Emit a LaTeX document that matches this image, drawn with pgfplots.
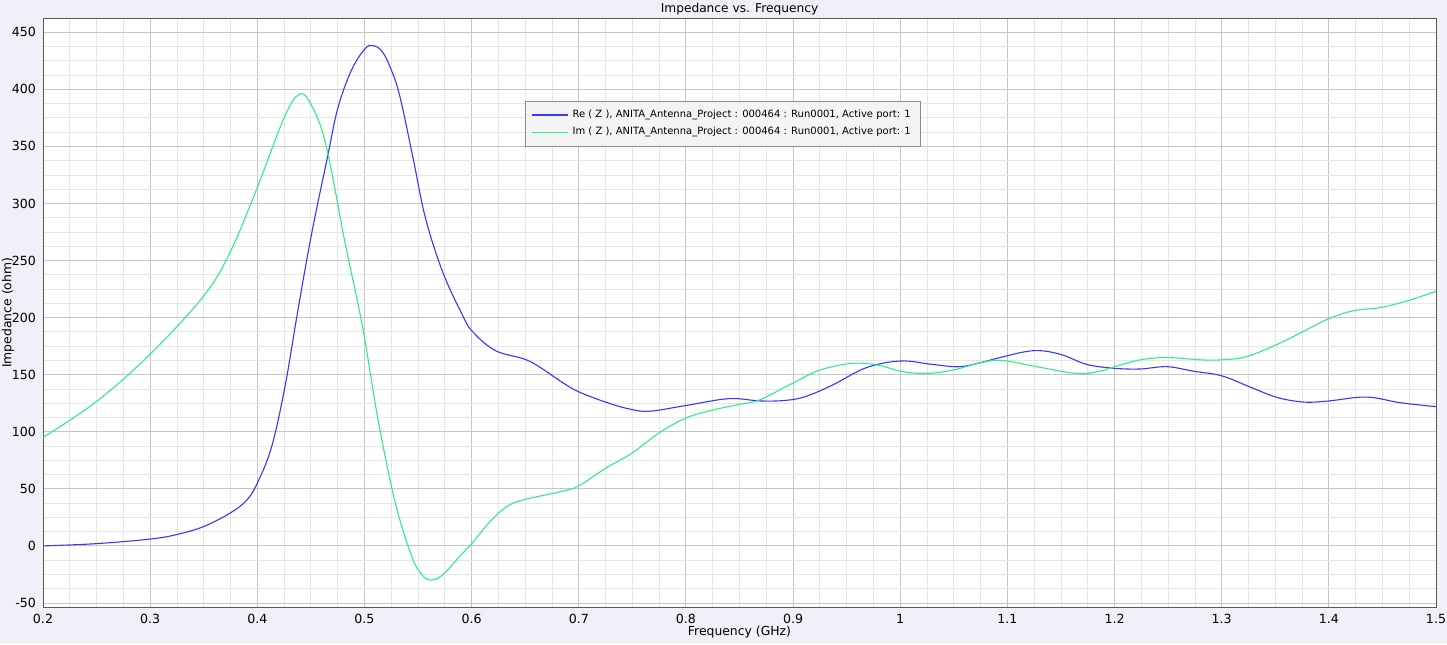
\documentclass[border=0pt]{standalone}
\usepackage{fontspec}
\setmainfont{DejaVu Sans}
\usepackage{pgfplots}
\pgfplotsset{compat=1.18}
\definecolor{bgc}{RGB}{240,240,248}
\definecolor{reBlue}{RGB}{55,55,255}
\definecolor{imGreen}{RGB}{45,240,130}
\definecolor{majg}{RGB}{198,198,198}
\definecolor{ming}{RGB}{230,230,230}
\definecolor{legf}{RGB}{244,244,244}
\begin{document}
\begin{tikzpicture}[x=1pt,y=1pt]
\fill[bgc] (-21.5,-18.5) rectangle (702,303.5);
\begin{axis}[
  at={(0,0)}, anchor=south west, scale only axis,
  width=696.5pt, height=294.25pt,
  xmin=0.2, xmax=1.5, ymin=-53.5, ymax=462,
  xtick={0.2,0.3,0.4,0.5,0.6,0.7,0.8,0.9,1.0,1.1,1.2,1.3,1.4,1.5},
  ytick={-50,0,50,100,150,200,250,300,350,400,450},
  minor x tick num=3, minor y tick num=3,
  grid=both,
  major grid style={majg, line width=0.5pt},
  minor grid style={ming, line width=0.4pt},
  major tick length=0pt, minor tick length=0pt,
  axis line style={draw=black!65, line width=0.5pt},
  axis background/.style={fill=white},
  tick label style={font=\fontsize{6.3}{7}\selectfont},
  /pgf/number format/assume math mode=true,
  /pgf/number format/fixed,
  xlabel={Frequency (GHz)},
  ylabel={Impedance (ohm)},
  label style={font=\fontsize{6.2}{7}\selectfont},
  xlabel style={at={(axis description cs:0.5,0)}, anchor=center, yshift=-12.5pt},
  ylabel style={at={(axis description cs:-0.0251,0.5)}, anchor=center, inner sep=0pt},
  title={Impedance vs. Frequency},
  every axis title/.style={font=\fontsize{6.1}{7}\selectfont, at={(axis description cs:0.5,1)}, anchor=center, yshift=4.8pt},
  legend style={at={(axis description cs:0.346,0.86)}, anchor=north west,
    fill=legf, draw=black!45, line width=0.4pt,
    font=\fontsize{5}{5.8}\selectfont, row sep=-0.5pt, inner xsep=3pt, inner ysep=2.2pt},
  legend cell align=left,
  legend image code/.code={\draw[#1,line width=0.6pt] (0pt,0pt) -- (18pt,0pt);},
]
\addplot[color=reBlue, line width=0.55pt, smooth, tension=0.6] coordinates {
(0.2,0) (0.25,2) (0.3,6) (0.325,10) (0.35,17) (0.375,29) (0.39,40) (0.4,55)
(0.4134,87) (0.4259,140) (0.438,207) (0.4508,274) (0.4656,341) (0.475,383)
(0.4875,416) (0.5,435) (0.5078,438.3) (0.5166,433) (0.525,417) (0.533,394)
(0.5453,340) (0.557,287) (0.573,240) (0.591,203) (0.6006,188) (0.6224,171) (0.6536,162)
(0.685,143) (0.7,135) (0.725,126) (0.747,120) (0.766,118) (0.8,123) (0.84,129)
(0.869,127) (0.893,127.5) (0.912,131) (0.937,141) (0.968,156) (1.0,162)
(1.03,159) (1.055,157) (1.077,161) (1.093,165) (1.124,171) (1.149,168)
(1.174,159) (1.2,155.6) (1.224,155) (1.249,157) (1.274,153) (1.3,149)
(1.327,139) (1.352,130) (1.377,126) (1.4,127) (1.435,130.4) (1.467,125.4) (1.5,122)
};
\addlegendentry{Re ( Z ), ANITA\_Antenna\_Project : 000464 : Run0001, Active port: 1}
\addplot[color=imGreen, line width=0.55pt, smooth, tension=0.6] coordinates {
(0.2,95) (0.25,126.5) (0.3,168) (0.35,219) (0.375,258) (0.4,314)
(0.425,375) (0.4391,395.6) (0.45,387) (0.464,351.5) (0.482,265) (0.498,193)
(0.513,109) (0.529,37) (0.5445,-10) (0.554,-25.6) (0.562,-30) (0.5726,-25.6)
(0.591,-7) (0.6006,2.5) (0.616,20) (0.632,34) (0.647,40) (0.669,44.7) (0.685,48)
(0.7,52.5) (0.725,68) (0.75,81.5) (0.775,99) (0.8,112) (0.825,119) (0.85,124)
(0.869,128) (0.9,142.7) (0.925,154) (0.956,160) (0.981,158) (1.0,153) (1.024,151)
(1.049,154) (1.077,161) (1.096,162.5) (1.124,157.6) (1.165,151) (1.186,153)
(1.2,157) (1.224,163) (1.249,165) (1.28,163) (1.3,163) (1.323,165.8) (1.352,176.6)
(1.377,188.3) (1.4,199) (1.423,206) (1.448,208.8) (1.473,214.6) (1.5,223)
};
\addlegendentry{Im ( Z ), ANITA\_Antenna\_Project : 000464 : Run0001, Active port: 1}
\end{axis}
\pgfresetboundingbox
\path[use as bounding box] (-21.5,-18.5) rectangle (702,303.5);
\end{tikzpicture}
\end{document}
